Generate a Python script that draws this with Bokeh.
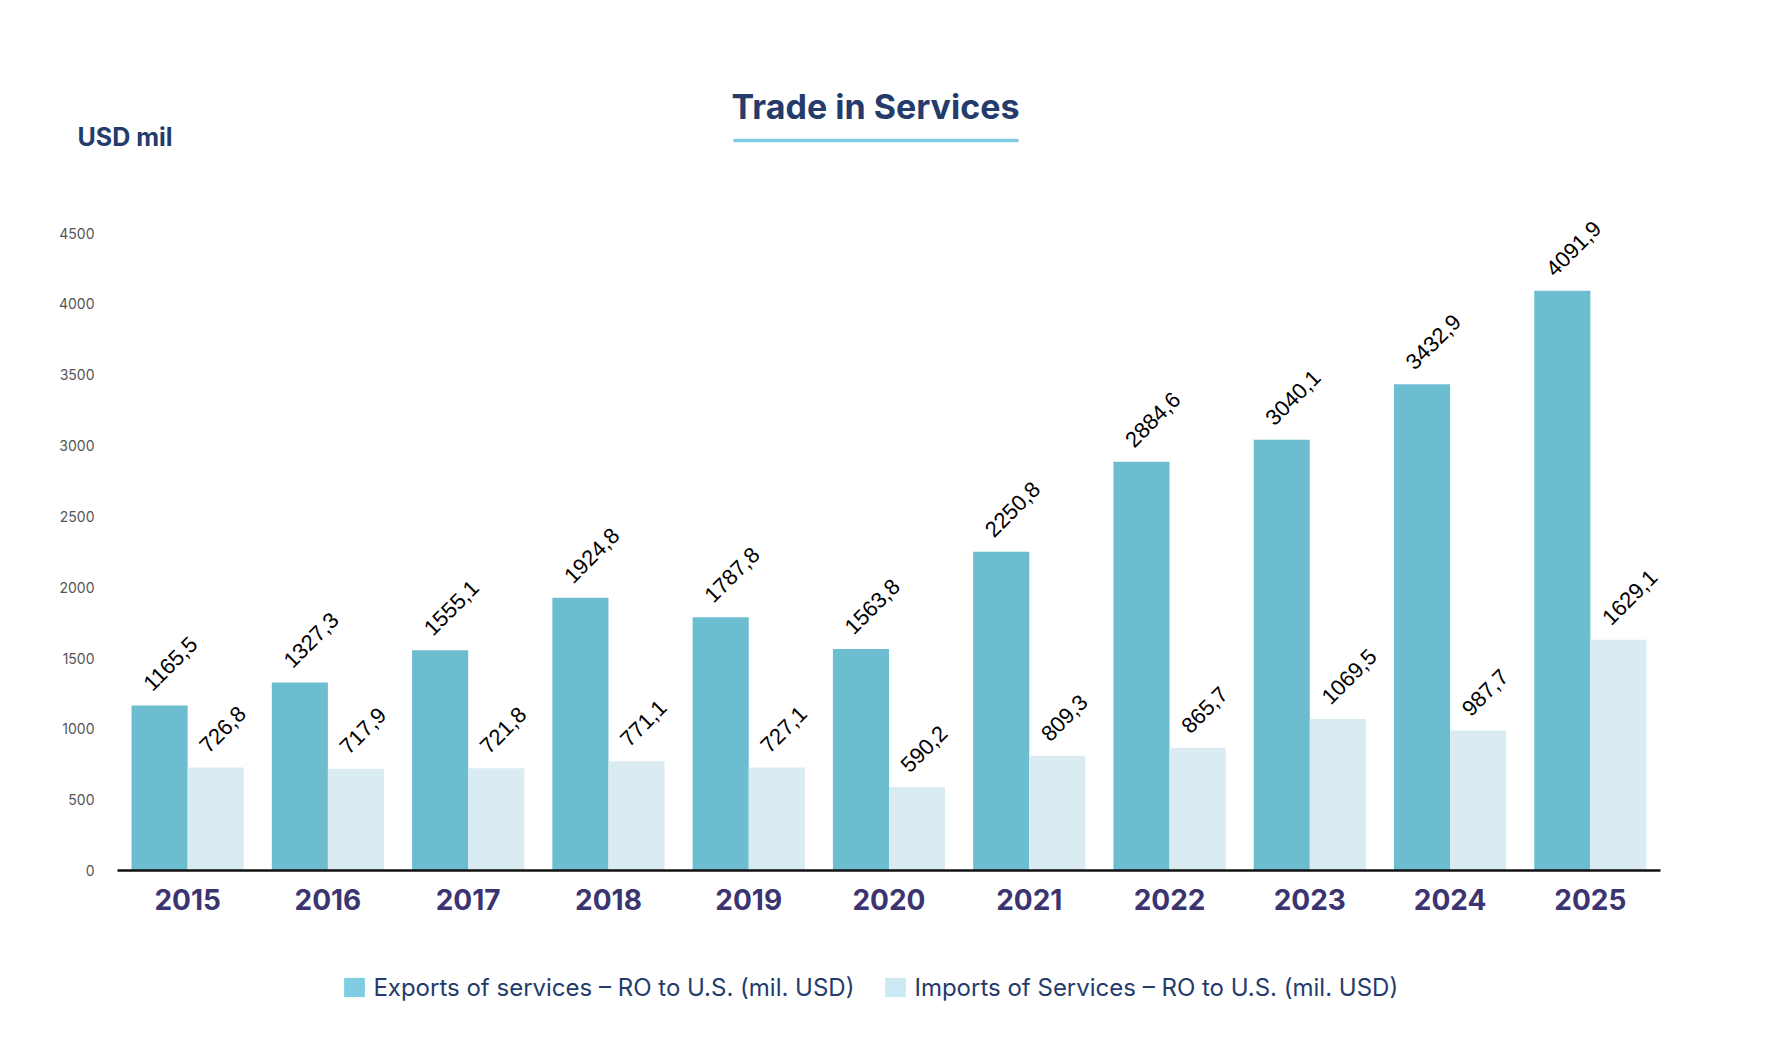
from bokeh.plotting import figure
from bokeh.models import (FactorRange, Range1d, ColumnDataSource, FixedTicker, Legend, LegendItem,
                          LinearAxis)
from bokeh.transform import dodge
from bokeh.core.properties import value
from bokeh.embed import file_html
from bokeh.resources import INLINE
import math

years = ["2015", "2016", "2017", "2018", "2019", "2020", "2021", "2022", "2023", "2024", "2025"]
exports = [1165.5, 1327.3, 1555.1, 1924.8, 1787.8, 1563.8, 2250.8, 2884.6, 3040.1, 3432.9, 4091.9]
imports = [726.8, 717.9, 721.8, 771.1, 727.1, 590.2, 809.3, 865.7, 1069.5, 987.7, 1629.1]
y_ticks = [0, 500, 1000, 1500, 2000, 2500, 3000, 3500, 4000, 4500]
series_names = ["Exports of services \u2013 RO to U.S. (mil. USD)",
                "Imports of Services \u2013 RO to U.S. (mil. USD)"]
chart_title = "Trade in Services"
unit_label = "USD mil"

def fmt(v):
    return f"{v:.1f}".replace(".", ",")

NAVY = "#243B6B"
EXP_C = "#6CBDD0"
IMP_C = "#DBEBF2"
EXP_KEY = "#80CDE3"
IMP_KEY = "#CDE9F2"
W = 1760
HEAD_H = 190
MAIN_H = 740
FOOT_H = 110


def blank(h):
    f = figure(width=W, height=h, x_range=Range1d(0, W), y_range=Range1d(h, 0),
               output_backend="svg", toolbar_location=None, title=None,
               min_border=0, x_axis_location=None, y_axis_location=None)
    f.outline_line_color = None
    f.xgrid.grid_line_color = None
    f.ygrid.grid_line_color = None
    return f

# ---------- header: title, underline, unit ----------
head = blank(HEAD_H)
head.text(x=[875], y=[106], text=[chart_title], text_align="center", text_baseline="middle",
          text_font=value("Inter"), text_font_style="bold", text_font_size="34px",
          text_color=NAVY)
head.segment(x0=[733], y0=[140], x1=[1018], y1=[140], line_color="#7FCCE3", line_width=3.5)
head.text(x=[77], y=[136], text=[unit_label], text_align="left", text_baseline="middle",
          text_font=value("Inter"), text_font_style="bold", text_font_size="25px",
          text_color=NAVY)

# ---------- main chart ----------
src = ColumnDataSource(dict(
    year=years, exports=exports, imports=imports,
    exp_lbl=[fmt(v) for v in exports], imp_lbl=[fmt(v) for v in imports],
))

p = figure(width=W, height=MAIN_H, x_range=FactorRange(factors=years),
           y_range=Range1d(0, 4800), output_backend="svg", toolbar_location=None, title=None,
           min_border_left=117, min_border_right=100, min_border_top=0, min_border_bottom=60,
           y_axis_location=None)
p.outline_line_color = None
p.xgrid.grid_line_color = None
p.ygrid.grid_line_color = None

p.vbar(x=dodge("year", -0.2, range=p.x_range), top="exports", width=0.4, source=src,
       fill_color=EXP_C, line_color=None)
p.vbar(x=dodge("year", 0.2, range=p.x_range), top="imports", width=0.4, source=src,
       fill_color=IMP_C, line_color=None)

for col, lbl, dx in (("exports", "exp_lbl", -0.2), ("imports", "imp_lbl", 0.2)):
    p.text(x=dodge("year", dx, range=p.x_range), y=col, text=lbl, source=src,
           angle=math.pi / 4, text_align="left", text_baseline="alphabetic",
           x_offset=-12.5, y_offset=-18.5, text_font=value("Liberation Sans"),
           text_font_size="22px", text_color="#000000")

xa = p.xaxis[0]
xa.axis_line_color = "#111111"
xa.axis_line_width = 2.5
xa.major_tick_line_color = None
xa.minor_tick_line_color = None
xa.major_label_text_font = "Inter"
xa.major_label_text_font_style = "bold"
xa.major_label_text_font_size = "28px"
xa.major_label_text_color = "#3B3470"
xa.major_label_standoff = 12

ya = LinearAxis(ticker=FixedTicker(ticks=y_ticks))
ya.axis_line_color = None
ya.major_tick_line_color = None
ya.minor_tick_line_color = None
ya.major_label_text_font = "Inter"
ya.major_label_text_font_size = "14px"
ya.major_label_text_color = "#555555"
ya.major_label_standoff = 17
p.add_layout(ya, "left")

# ---------- footer: legend ----------
foot = blank(FOOT_H)
k_exp = foot.vbar(x=[0], top=[0], width=0, fill_color=EXP_KEY, line_color=None)
k_imp = foot.vbar(x=[0], top=[0], width=0, fill_color=IMP_KEY, line_color=None)
legend = Legend(items=[LegendItem(label=series_names[0], renderers=[k_exp]),
                       LegendItem(label=series_names[1], renderers=[k_imp])],
                orientation="horizontal", location=(341.4, 38.5),
                glyph_width=26, glyph_height=24, label_height=20, label_standoff=6,
                spacing=28, padding=0, margin=0, border_line_color=None,
                background_fill_alpha=0, label_text_font="Inter",
                label_text_font_size="24px", label_text_color=NAVY)
foot.add_layout(legend, "center")

open("out.html", "w").write(file_html([head, p, foot], INLINE))
